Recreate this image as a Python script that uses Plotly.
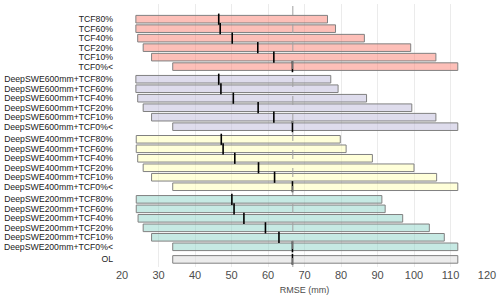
import plotly.graph_objects as go

groups = ["TCF", "DeepSWE600mm+TCF", "DeepSWE400mm+TCF", "DeepSWE200mm+TCF", "OL"]
levels = ["80%", "60%", "40%", "20%", "10%", "0%<"]

# min, median, max RMSE (mm) per row, top to bottom within each group
tcf_min = [23.8, 23.8, 24.3, 25.8, 28.1, 33.9]
tcf_med = [46.5, 46.9, 50.2, 57.2, 61.6, 66.7]
tcf_max = [76.3, 78.5, 86.4, 99.1, 106.0, 112.0]

d600_min = [23.8, 23.8, 24.3, 25.8, 28.1, 33.9]
d600_med = [46.5, 47.1, 50.5, 57.3, 61.6, 66.7]
d600_max = [77.2, 79.2, 87.0, 99.4, 106.0, 112.0]

d400_min = [23.9, 23.9, 24.3, 25.8, 28.1, 33.9]
d400_med = [47.2, 47.7, 50.9, 57.4, 61.8, 66.7]
d400_max = [79.8, 81.4, 88.6, 100.0, 106.2, 112.0]

d200_min = [23.9, 23.9, 24.4, 25.8, 28.1, 33.9]
d200_med = [50.1, 50.7, 53.4, 59.3, 63.0, 66.7]
d200_max = [91.2, 92.1, 96.9, 104.2, 108.3, 112.0]

ol_min = [33.9]
ol_med = [66.7]
ol_max = [112.0]

ol_reference = 66.8

fills = ["rgba(251,128,114,0.5)", "rgba(190,186,218,0.5)", "rgba(255,255,179,0.5)",
         "rgba(141,211,199,0.5)", "rgba(217,217,217,0.5)"]

series = [
    (tcf_min, tcf_med, tcf_max),
    (d600_min, d600_med, d600_max),
    (d400_min, d400_med, d400_max),
    (d200_min, d200_med, d200_max),
    (ol_min, ol_med, ol_max),
]

fig = go.Figure()
tickvals, ticktext = [], []
idx = 0
gap = 0.33
for g, (mins, meds, maxs) in enumerate(series):
    n = len(mins)
    pos = [idx + i + gap * g for i in range(n)]
    idx += n
    if groups[g] == "OL":
        labels = ["OL"]
    else:
        labels = [groups[g] + lv for lv in levels]
    tickvals += pos
    ticktext += labels
    fig.add_trace(go.Bar(
        orientation="h", y=pos, base=mins, x=[b - a for a, b in zip(mins, maxs)],
        width=0.8, marker=dict(color=fills[g], line=dict(color="#808080", width=1)),
        showlegend=False, hoverinfo="skip"))
    fig.add_trace(go.Scatter(
        x=meds, y=pos, mode="markers",
        marker=dict(symbol="line-ns-open", size=8, color="black",
                    line=dict(color="black", width=1.6)),
        showlegend=False, hoverinfo="skip"))

fig.add_vline(x=ol_reference, line=dict(color="#a0a0a0", width=1, dash="dash"))

fig.update_layout(
    width=500, height=301,
    margin=dict(l=122, r=13, t=4, b=34),
    plot_bgcolor="white", paper_bgcolor="white",
    font=dict(family="Liberation Sans, Arial, sans-serif", color="#1a1a1a"),
    bargap=0,
)
fig.update_xaxes(
    range=[20, 120], tickvals=list(range(20, 121, 10)),
    showgrid=True, gridcolor="#ebebeb", gridwidth=1, zeroline=False,
    tickfont=dict(size=11, color="#4d4d4d"),
    title=dict(text="RMSE (mm)", font=dict(size=9, color="#4d4d4d"), standoff=6),
    showline=False, ticks="", automargin=False,
)
fig.update_yaxes(
    tickvals=tickvals, ticktext=ticktext, autorange=False,
    range=[tickvals[-1] + 0.8, -1.6],
    showgrid=False, zeroline=False, ticks="",
    tickfont=dict(size=8.7, color="#222222"), ticklabelstandoff=8,
    automargin=False,
)

fig.write_html("out.html", config={"displayModeBar": False, "staticPlot": True},
               post_script="document.body.style.margin='0';")
